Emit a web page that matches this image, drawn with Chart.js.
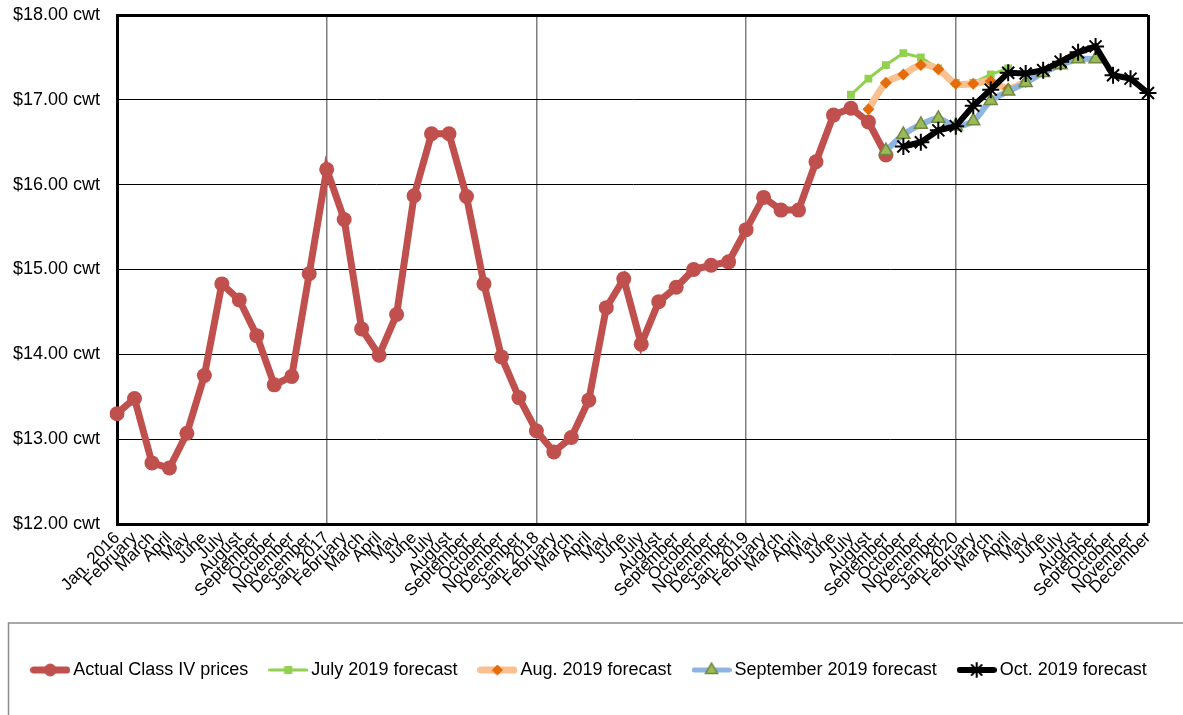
<!DOCTYPE html>
<html>
<head>
<meta charset="utf-8">
<script src="https://cdn.jsdelivr.net/npm/chart.js@4.4.1/dist/chart.umd.min.js"></script>
<style>
  body { margin: 0; background: #fff; }
  #wrap { width: 1183px; height: 715px; position: relative; }
</style>
</head>
<body>
<div id="wrap"><canvas id="myCanvas"></canvas></div>
<script>
// categories
const monthNames = ['January', 'February', 'March', 'April', 'May', 'June', 'July',
  'August', 'September', 'October', 'November', 'December']
const years = [2016, 2017, 2018, 2019, 2020]
const yTicks = [12, 13, 14, 15, 16, 17, 18]

// Actual Class IV prices, Jan. 2016 - September 2019
const actualPrices = [
  13.30, 13.48, 12.72, 12.66, 13.07, 13.75, 14.83, 14.64, 14.22, 13.64, 13.74, 14.95,
  16.18, 15.59, 14.30, 13.99, 14.47, 15.87, 16.60, 16.60, 15.86, 14.83, 13.97, 13.49,
  13.10, 12.85, 13.02, 13.46, 14.55, 14.89, 14.12, 14.62, 14.79, 15.00, 15.05, 15.09,
  15.47, 15.85, 15.70, 15.70, 16.27, 16.82, 16.90, 16.74, 16.35
]
// forecasts (first value is the month given in the start constant)
const julyStart = [2019, 7]
const julyForecast = [17.06, 17.25, 17.41, 17.55, 17.50, 17.37, 17.20, 17.20, 17.30, 17.37]
const augStart = [2019, 8]
const augForecast = [16.89, 17.20, 17.30, 17.41, 17.36, 17.19, 17.19, 17.22, 17.13, 17.21]
const sepStart = [2019, 9]
const sepForecast = [16.40, 16.59, 16.71, 16.78, 16.69, 16.75, 16.99, 17.10, 17.20, 17.32, 17.41, 17.48, 17.48]
const octStart = [2019, 10]
const octForecast = [16.45, 16.50, 16.64, 16.69, 16.93, 17.12, 17.32, 17.31, 17.35, 17.45, 17.56, 17.63, 17.29, 17.25, 17.08]

const labels = []
for (let y of years) {
  for (let m = 0; m < 12; m++) {
    labels.push(m === 0 ? 'Jan. ' + y : monthNames[m])
  }
}

function fromMonth(start, values) {
  const idx = (start[0] - years[0]) * 12 + start[1] - 1
  const out = []
  for (let i = 0; i < idx; i++) out.push(null)
  return out.concat(values)
}

const FONT = "'Liberation Sans', Arial, sans-serif"
Chart.defaults.font.family = FONT
Chart.defaults.color = '#000'

function makeIcon(lineColor, lineWidth, style, radius, fill, stroke, borderWidth) {
  const c = document.createElement('canvas')
  c.width = 40
  c.height = 18
  const g = c.getContext('2d')
  g.strokeStyle = lineColor
  g.lineWidth = lineWidth
  g.lineCap = 'round'
  g.beginPath()
  g.moveTo(lineWidth / 2, 9)
  g.lineTo(40 - lineWidth / 2, 9)
  g.stroke()
  g.fillStyle = fill
  g.strokeStyle = stroke
  g.lineWidth = borderWidth
  Chart.helpers.drawPoint(g, { pointStyle: style, radius: radius, rotation: 0, borderWidth: borderWidth }, 20, 9)
  return c
}

const icons = [
  makeIcon('#C0504D', 7, 'circle', 6, '#C0504D', '#C0504D', 1),
  makeIcon('#92D050', 3, 'rect', 5, '#92D050', '#92D050', 1),
  makeIcon('#FAC090', 7, 'rectRot', 5, '#E46C0A', '#E46C0A', 1),
  makeIcon('#8EB4E3', 5, 'triangle', 7, '#9BBB59', '#71893F', 1.5),
  makeIcon('#000000', 6, 'star', 7, '#000', '#000', 2)
]

const legendBox = {
  id: 'legendBox',
  afterDraw(chart) {
    const ctx = chart.ctx
    const lg = chart.legend
    ctx.save()
    ctx.strokeStyle = '#8c8c8c'
    ctx.lineWidth = 1.5
    ctx.strokeRect(8.5, lg.top - 12, 1300, 300)
    ctx.restore()
  }
}

const context = document.getElementById('myCanvas').getContext('2d')

new Chart(context, {
  type: 'line',
  data: {
    labels: labels,
    datasets: [
      {
        label: 'Actual Class IV prices',
        data: actualPrices,
        borderColor: '#C0504D',
        backgroundColor: '#C0504D',
        borderWidth: 7,
        pointRadius: 7.5,
        pointStyle: 'circle',
        pointBorderWidth: 0,
        order: 5,
        tension: 0
      },
      {
        label: 'July 2019 forecast',
        data: fromMonth(julyStart, julyForecast),
        borderColor: '#92D050',
        backgroundColor: '#92D050',
        borderWidth: 3,
        pointStyle: 'rect',
        pointRadius: 5.5,
        pointBorderWidth: 0,
        order: 4,
        tension: 0
      },
      {
        label: 'Aug. 2019 forecast',
        data: fromMonth(augStart, augForecast),
        borderColor: '#FAC090',
        backgroundColor: '#E46C0A',
        pointBorderColor: '#E46C0A',
        borderWidth: 7,
        pointStyle: 'rectRot',
        pointRadius: 6,
        pointBorderWidth: 0,
        order: 3,
        tension: 0.3
      },
      {
        label: 'September 2019 forecast',
        data: fromMonth(sepStart, sepForecast),
        borderColor: '#8EB4E3',
        backgroundColor: '#9BBB59',
        pointBorderColor: '#71893F',
        borderWidth: 6,
        pointStyle: 'triangle',
        pointRadius: 7.5,
        pointBorderWidth: 1.5,
        order: 2,
        tension: 0.3
      },
      {
        label: 'Oct. 2019 forecast',
        data: fromMonth(octStart, octForecast),
        borderColor: '#000000',
        backgroundColor: '#000000',
        pointBorderColor: '#000000',
        borderWidth: 6,
        pointStyle: 'star',
        pointRadius: 8.5,
        pointBorderWidth: 2,
        order: 1,
        tension: 0
      }
    ]
  },
  options: {
    responsive: true,
    maintainAspectRatio: false,
    animation: false,
    layout: { padding: { top: 15, left: 0, right: 0, bottom: 26 } },
    plugins: {
      title: { display: false },
      tooltip: { enabled: false },
      legend: {
        position: 'bottom',
        labels: {
          usePointStyle: true,
          pointStyleWidth: 28,
          padding: 26,
          color: '#000',
          font: { size: 18, family: FONT },
          generateLabels: (chart) => chart.data.datasets.map((ds, i) => ({
            text: ds.label,
            pointStyle: icons[i],
            datasetIndex: i,
            hidden: false,
            lineWidth: 0,
            fontColor: '#000'
          })),
          sort: (a, b) => a.datasetIndex - b.datasetIndex
        }
      }
    },
    scales: {
      x: {
        offset: false,
        grid: {
          drawTicks: false,
          color: (c) => c.index === labels.length - 1 ? '#000' : (c.index > 0 && c.index % 12 === 0 ? '#7f7f7f' : 'rgba(0,0,0,0)'),
          lineWidth: (c) => c.index === labels.length - 1 ? 3 : 1.5
        },
        border: { color: '#000', width: 3 },
        ticks: {
          autoSkip: false,
          minRotation: 45,
          maxRotation: 45,
          padding: 4,
          color: '#000',
          font: { size: 17, family: FONT }
        },
        afterFit: (s) => { s.height = 111 }
      },
      y: {
        min: yTicks[0],
        max: yTicks[yTicks.length - 1],
        afterBuildTicks: (s) => { s.ticks = yTicks.map(v => ({ value: v })) },
        grid: {
          drawTicks: false,
          color: (c) => c.tick.value === yTicks[0] ? 'rgba(0,0,0,0)' : '#000',
          lineWidth: (c) => c.tick.value === yTicks[yTicks.length - 1] ? 3 : 1
        },
        border: { color: '#000', width: 3 },
        ticks: {
          padding: 17,
          color: '#000',
          font: { size: 18, family: FONT },
          callback: (v) => '$' + Number(v).toFixed(2) + ' cwt'
        },
        afterFit: (s) => {
          s.width = 117
          s.paddingTop = 0
          s.paddingBottom = 0
        }
      },
      yRight: {
        position: 'right',
        display: true,
        grid: { display: false, drawTicks: false },
        border: { display: false },
        ticks: { display: false },
        afterFit: (s) => {
          s.width = 35
          s.paddingTop = 0
          s.paddingBottom = 0
        }
      }
    }
  },
  plugins: [legendBox]
})
</script>
</body>
</html>
